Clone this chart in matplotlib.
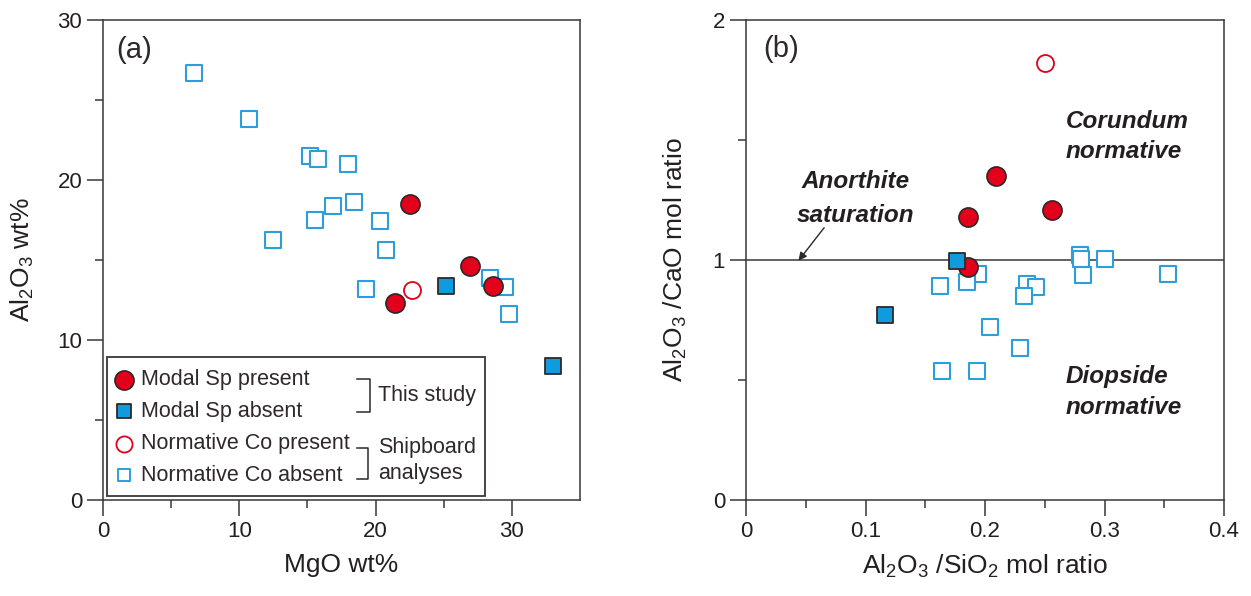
import matplotlib
matplotlib.use("Agg")
import matplotlib.pyplot as plt
from matplotlib import font_manager as fm
from matplotlib.patches import Rectangle
from matplotlib.lines import Line2D

# ---------------- data ----------------
# Panel (a): MgO wt% vs Al2O3 wt%
a_sp_present_mgo = [22.5, 26.9, 28.6, 21.4]
a_sp_present_al = [18.5, 14.65, 13.35, 12.3]
a_sp_absent_mgo = [25.2, 33.0]
a_sp_absent_al = [13.35, 8.4]
a_co_present_mgo = [22.7]
a_co_present_al = [13.1]
a_co_absent_mgo = [6.7, 10.7, 15.2, 15.8, 18.0, 18.4, 16.9, 15.55, 12.45, 20.3, 20.8, 19.3, 28.4, 29.5, 29.8]
a_co_absent_al = [26.7, 23.8, 21.5, 21.3, 21.0, 18.6, 18.35, 17.5, 16.25, 17.45, 15.6, 13.2, 13.85, 13.3, 11.6]

# Panel (b): Al2O3/SiO2 vs Al2O3/CaO mol ratio
b_sp_present_x = [0.209, 0.256, 0.186, 0.1855]
b_sp_present_y = [1.35, 1.21, 1.18, 0.97]
b_sp_absent_x = [0.1766, 0.116]
b_sp_absent_y = [0.997, 0.77]
b_co_present_x = [0.250]
b_co_present_y = [1.82]
b_co_absent_x = [0.194, 0.162, 0.185, 0.235, 0.2425, 0.233, 0.2795, 0.2805, 0.300, 0.282, 0.353, 0.204, 0.229, 0.164, 0.1935]
b_co_absent_y = [0.94, 0.893, 0.908, 0.901, 0.886, 0.849, 1.02, 1.005, 1.005, 0.936, 0.942, 0.722, 0.632, 0.539, 0.539]

a_xticks = [0, 10, 20, 30]
a_xticklabels = ["0", "10", "20", "30"]
a_yticks = [0, 10, 20, 30]
a_yticklabels = ["0", "10", "20", "30"]
b_xticks = [0, 0.1, 0.2, 0.3, 0.4]
b_xticklabels = ["0", "0.1", "0.2", "0.3", "0.4"]
b_yticks = [0, 1, 2]
b_yticklabels = ["0", "1", "2"]

legend_labels = ["Modal Sp present", "Modal Sp absent",
                 "Normative Co present", "Normative Co absent"]

# ---------------- style ----------------
names = {f.name for f in fm.fontManager.ttflist}
NARROW = "Liberation Sans Narrow" if "Liberation Sans Narrow" in names else "Liberation Sans"
WIDE = "Liberation Sans"
plt.rcParams["font.family"] = [NARROW, "DejaVu Sans"]
plt.rcParams["mathtext.fontset"] = "custom"
plt.rcParams["mathtext.rm"] = NARROW
plt.rcParams["mathtext.it"] = NARROW + ":italic"
plt.rcParams["mathtext.bf"] = NARROW + ":bold"

DARK = "#2e2828"
SPINE = "#3b3536"
RED = "#e2001a"
BLUE_FILL = "#0f9bde"
BLUE_EDGE = "#2d9ed9"

if NARROW == WIDE:
    TICK_FS, LABEL_FS, LEG_FS, PANEL_FS = 16, 19, 15.5, 21
else:
    TICK_FS, LABEL_FS, LEG_FS, PANEL_FS = 18, 21, 17.5, 23
ANN_FS = 17.5

fig = plt.figure(figsize=(12.51, 5.96), dpi=100)
axa = fig.add_axes([103 / 1251, 96 / 596, 477 / 1251, 480 / 596])
axb = fig.add_axes([746 / 1251, 96 / 596, 478 / 1251, 480 / 596])


def style_axes(ax):
    for s in ax.spines.values():
        s.set_linewidth(1.1)
        s.set_color(SPINE)
    ax.tick_params(which="both", direction="out", color=SPINE, width=1.1,
                   top=False, right=False, labelsize=TICK_FS, pad=3.5,
                   labelcolor="#231f20")
    ax.tick_params(which="major", length=11.5)
    ax.tick_params(which="minor", length=5.8)


def draw_points(ax, cox, coy, cpx, cpy, spx, spy, sax, say):
    ax.scatter(cox, coy, s=117, marker="s", facecolor="white",
               edgecolor=BLUE_EDGE, linewidth=1.5, zorder=3)
    ax.scatter(cpx, cpy, s=150, marker="o", facecolor="white",
               edgecolor=RED, linewidth=1.3, zorder=4)
    ax.scatter(spx, spy, s=190, marker="o", facecolor=RED,
               edgecolor=DARK, linewidth=1.2, zorder=5)
    ax.scatter(sax, say, s=120, marker="s", facecolor=BLUE_FILL,
               edgecolor=DARK, linewidth=1.3, zorder=6)


# ---------------- panel (a) ----------------
style_axes(axa)
axa.set_xlim(0, 35)
axa.set_ylim(0, 30)
axa.set_xticks(a_xticks)
axa.set_xticklabels(a_xticklabels)
axa.set_xticks([5, 15, 25], minor=True)
axa.set_yticks(a_yticks)
axa.set_yticklabels(a_yticklabels)
axa.set_yticks([5, 15, 25], minor=True)
axa.set_xlabel("MgO wt%", fontsize=LABEL_FS, labelpad=8, color="#231f20")
axa.set_ylabel(r"Al$_\mathregular{2}$O$_\mathregular{3}$ wt%", fontsize=LABEL_FS,
               labelpad=15, color="#231f20")
draw_points(axa, a_co_absent_mgo, a_co_absent_al, a_co_present_mgo, a_co_present_al,
            a_sp_present_mgo, a_sp_present_al, a_sp_absent_mgo, a_sp_absent_al)
axa.text(0.027, 0.938, "(a)", transform=axa.transAxes, fontsize=PANEL_FS,
         ha="left", va="center", color=DARK)

# legend box (manual, with brackets)
T = axa.transAxes
axa.add_patch(Rectangle((0.0084, 0.0083), 0.7924, 0.2896, transform=T,
                        facecolor="white", edgecolor=SPINE, linewidth=1.3, zorder=7))
rows = [0.25, 0.1854, 0.1167, 0.052]
mx = 0.044
axa.scatter([mx], [rows[0]], s=190, marker="o", facecolor=RED, edgecolor=DARK,
            linewidth=1.2, transform=T, zorder=8, clip_on=False)
axa.scatter([mx], [rows[1]], s=95, marker="s", facecolor=BLUE_FILL, edgecolor=DARK,
            linewidth=1.3, transform=T, zorder=8, clip_on=False)
axa.scatter([mx], [rows[2]], s=135, marker="o", facecolor="white", edgecolor=RED,
            linewidth=1.3, transform=T, zorder=8, clip_on=False)
axa.scatter([mx], [rows[3]], s=85, marker="s", facecolor="white", edgecolor=BLUE_EDGE,
            linewidth=1.4, transform=T, zorder=8, clip_on=False)
for lab, yy in zip(legend_labels, rows):
    axa.text(0.0797, yy, lab, transform=T, fontsize=LEG_FS, ha="left",
             va="center", color=DARK, zorder=9)
# brackets
axa.add_line(Line2D([0.5319, 0.5597, 0.5597, 0.5319], [0.2515, 0.2515, 0.1827, 0.1827],
                    transform=T, color=DARK, linewidth=1.1, zorder=9))
axa.add_line(Line2D([0.5319, 0.5562, 0.5562, 0.5319], [0.109, 0.109, 0.0431, 0.0431],
                    transform=T, color=DARK, linewidth=1.1, zorder=9))
axa.text(0.5765, 0.21875, "This study", transform=T, fontsize=LEG_FS, ha="left",
         va="center", color=DARK, zorder=9)
axa.text(0.5765, 0.1104, "Shipboard", transform=T, fontsize=LEG_FS, ha="left",
         va="center", color=DARK, zorder=9)
axa.text(0.5765, 0.05625, "analyses", transform=T, fontsize=LEG_FS, ha="left",
         va="center", color=DARK, zorder=9)

# ---------------- panel (b) ----------------
style_axes(axb)
axb.set_xlim(0, 0.4)
axb.set_ylim(0, 2)
axb.set_xticks(b_xticks)
axb.set_xticklabels(b_xticklabels)
axb.set_xticks([0.05, 0.15, 0.25, 0.35], minor=True)
axb.set_yticks(b_yticks)
axb.set_yticklabels(b_yticklabels)
axb.set_yticks([0.5, 1.5], minor=True)
axb.set_xlabel(r"Al$_\mathregular{2}$O$_\mathregular{3}$ /SiO$_\mathregular{2}$ mol ratio",
               fontsize=LABEL_FS, labelpad=8, color="#231f20")
axb.set_ylabel(r"Al$_\mathregular{2}$O$_\mathregular{3}$ /CaO mol ratio",
               fontsize=LABEL_FS, labelpad=17, color="#231f20")
axb.axhline(1.0, color=SPINE, linewidth=1.1, zorder=2)
draw_points(axb, b_co_absent_x, b_co_absent_y, b_co_present_x, b_co_present_y,
            b_sp_present_x, b_sp_present_y, b_sp_absent_x, b_sp_absent_y)
axb.text(0.036, 0.94, "(b)", transform=axb.transAxes, fontsize=PANEL_FS,
         ha="left", va="center", color=DARK)

ann = dict(fontsize=ANN_FS, fontweight="bold", fontstyle="italic",
           family=[WIDE, "DejaVu Sans"], color="#231f20", va="baseline")
axb.text(0.0914, 1.30, "Anorthite", ha="center", **ann)
axb.text(0.0914, 1.158, "saturation", ha="center", **ann)
axb.text(0.2674, 1.55, "Corundum", ha="left", **ann)
axb.text(0.2674, 1.425, "normative", ha="left", **ann)
axb.text(0.2674, 0.4875, "Diopside", ha="left", **ann)
axb.text(0.2674, 0.358, "normative", ha="left", **ann)
axb.annotate("", xy=(0.0439, 0.997), xytext=(0.0654, 1.1346),
             arrowprops=dict(arrowstyle="-|>", color=DARK, lw=1.0,
                             mutation_scale=12, shrinkA=0, shrinkB=0))

fig.savefig("out.png", dpi=100)
